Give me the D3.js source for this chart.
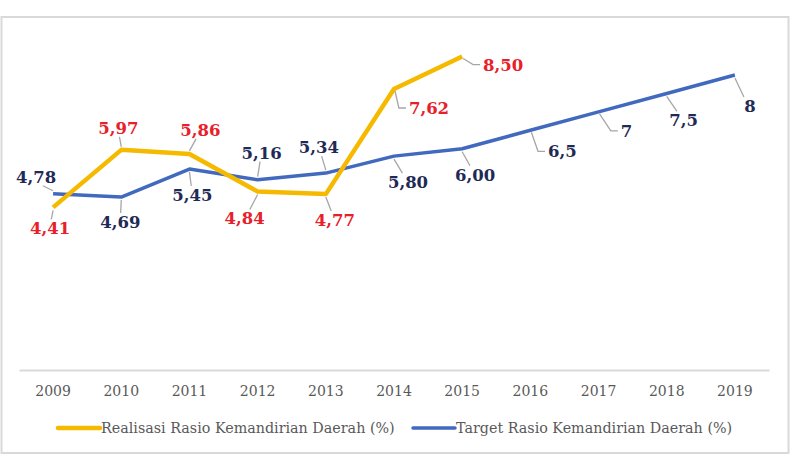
<!DOCTYPE html>
<html lang="id">
<head>
	<meta charset="UTF-8">
	<title>Rasio Kemandirian Daerah</title>
	<style>
		body { margin:0; background:#fff; }
	</style>
</head>
<body>
	<svg></svg>
	<script src="https://d3js.org/d3.v7.min.js"></script>
	<script>
		// data
		var years = ["2009","2010","2011","2012","2013","2014","2015","2016","2017","2018","2019"];
		var realisasi = [4.41, 5.97, 5.86, 4.84, 4.77, 7.62, 8.50];
		var target = [4.78, 4.69, 5.45, 5.16, 5.34, 5.80, 6.00, 6.5, 7, 7.5, 8];
		var realisasiLabels = ["4,41","5,97","5,86","4,84","4,77","7,62","8,50"];
		var targetLabels = ["4,78","4,69","5,45","5,16","5,34","5,80","6,00","6,5","7","7,5","8"];
		var seriesNames = ["Realisasi Rasio Kemandirian Daerah (%)", "Target Rasio Kemandirian Daerah (%)"];

		// label offsets (dx, dy from point)
		var realisasiOff = [[-3,21],[-3,-22],[11,-24],[-13,27],[9,26],[35,19],[41,8]];
		var targetOff = [[-17,-17],[-1,25],[3,26],[4,-27],[-7,-26],[14,26],[13,26],[32,21],[28,19],[17,27],[15,31]];

		var width = 795, height = 460;
		var svg = d3.select("svg")
			.attr("width", width)
			.attr("height", height)
			.style("display","block");

		// frame
		svg.append("rect")
			.attr("x", 1.5).attr("y", 17)
			.attr("width", 787).attr("height", 436)
			.attr("fill", "#fff")
			.attr("stroke", "#d9d9d9")
			.attr("stroke-width", 2);

		var x = d3.scaleBand()
			.domain(years)
			.range([19, 769]);

		var y = d3.scaleLinear()
			.domain([0, 8])
			.range([370, 75]);

		var cx = function(i){ return x(years[i]) + x.bandwidth()/2; };

		// x axis
		var xAxis = svg.append("g")
			.attr("transform", "translate(0,370)")
			.call(d3.axisBottom(x).tickSize(0).tickPadding(16));
		xAxis.select(".domain")
			.attr("stroke", "#d9d9d9")
			.attr("stroke-width", 2);
		xAxis.selectAll("text")
			.attr("font-family", "DejaVu Serif")
			.attr("font-size", "14px")
			.attr("fill", "#595959");

		var line = d3.line()
			.x(function(d,i){ return cx(i); })
			.y(function(d){ return y(d); });

		svg.append("path")
			.datum(target)
			.attr("d", line)
			.attr("fill", "none")
			.attr("stroke", "#4169BE")
			.attr("stroke-width", 3.5)
			.attr("stroke-linejoin", "round");

		svg.append("path")
			.datum(realisasi)
			.attr("d", line)
			.attr("fill", "none")
			.attr("stroke", "#F5BA00")
			.attr("stroke-width", 4.5)
			.attr("stroke-linejoin", "round");

		// data labels with leader lines
		function addLabels(values, texts, offs, color){
			var g = svg.append("g");
			values.forEach(function(v, i){
				var px = cx(i), py = y(v);
				var lx = px + offs[i][0], ly = py + offs[i][1];
				var t = g.append("text")
					.attr("x", lx).attr("y", ly)
					.attr("text-anchor", "middle")
					.attr("dy", "0.36em")
					.attr("font-family", "DejaVu Serif")
					.attr("font-weight", "bold")
					.attr("font-size", "16.5px")
					.attr("fill", color)
					.text(texts[i]);
				var w = t.node().getComputedTextLength(), h = 14;
				var ax, ay, pts;
				var ddx = lx - px, ddy = ly - py;
				if (Math.abs(ddy) < 24 && Math.abs(ddx) > w/2 + 2) {
					var s = ddx > 0 ? 1 : -1;
					ax = lx - s*(w/2 + 3); ay = ly;
					pts = [[px + s*1, py + (ddy > 0 ? 2 : -2)], [ax - s*7, ay], [ax, ay]];
				} else {
					ax = lx - ddx*0.4; ay = ly - (ddy > 0 ? 1 : -1)*(h/2 + 2);
					pts = [[px, py + (ddy > 0 ? 3 : -3)], [ax, ay]];
				}
				var dist = Math.hypot(ax - px, ay - py);
				if (dist > 9) {
					g.insert("path", "text")
						.attr("d", d3.line()(pts))
						.attr("fill", "none")
						.attr("stroke", "#a6a6a6")
						.attr("stroke-width", 1.3);
				}
			});
		}
		addLabels(target, targetLabels, targetOff, "#1F2A55");
		addLabels(realisasi, realisasiLabels, realisasiOff, "#E8202A");

		// legend
		var legend = svg.append("g");
		var legendItems = [
			{name: seriesNames[0], color: "#F5BA00", x: 58, w: 4.5},
			{name: seriesNames[1], color: "#4169BE", x: 413, w: 3.5}
		];
		legendItems.forEach(function(d){
			legend.append("line")
				.attr("x1", d.x).attr("x2", d.x + 42)
				.attr("y1", 428).attr("y2", 428)
				.attr("stroke", d.color)
				.attr("stroke-width", d.w)
				.attr("stroke-linecap", "round");
			legend.append("text")
				.attr("x", d.x + 43).attr("y", 428)
				.attr("dy", "0.35em")
				.attr("font-family", "DejaVu Serif")
				.attr("font-size", "14.3px")
				.attr("fill", "#595959")
				.text(d.name);
		});
	</script>
</body>
</html>
